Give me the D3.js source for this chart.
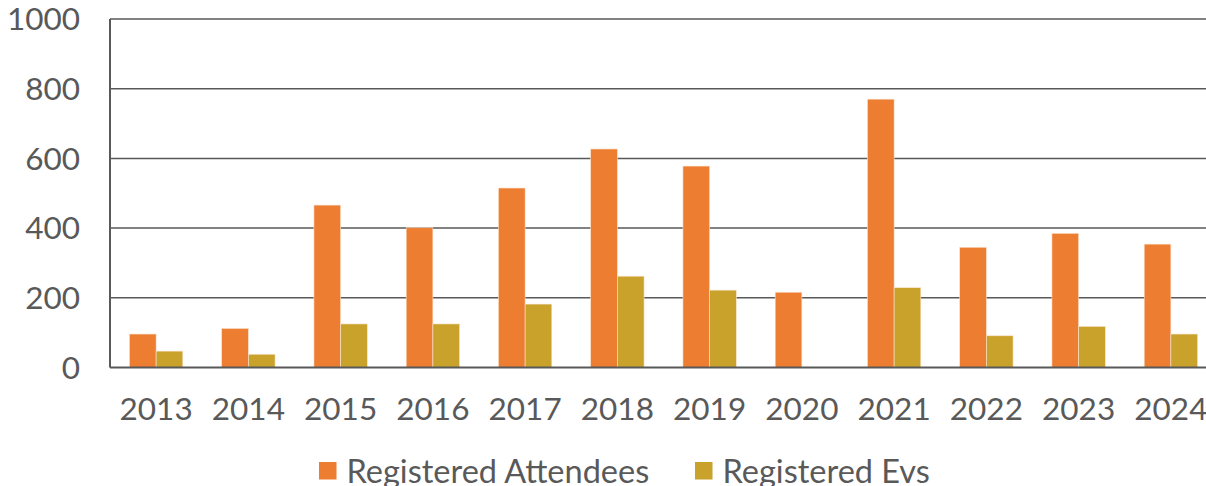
<!DOCTYPE html>
<html><head><meta charset="utf-8">
<script src="https://cdn.jsdelivr.net/npm/d3@7"></script>
<style>
html,body{margin:0;padding:0;background:#fff;}
svg{display:block;font-family:Lato,"Open Sans",sans-serif;}
</style></head>
<body>
<svg id="chart" width="1206" height="486"></svg>
<script>
const years = ["2013","2014","2015","2016","2017","2018","2019","2020","2021","2022","2023","2024"];
const attendees = [96,112,466,401,515,627,578,216,770,345,385,354];
const evs = [47,38,125,125,182,262,222,0,229,91,118,96];
const yTicks = [0,200,400,600,800,1000];
const seriesNames = ["Registered Attendees","Registered Evs"];
const colors = ["#ED7D31","#C9A22C"];

(function(){
const svg = d3.select("#chart");
const pLeft = 110, pRight = 1217, pTop = 19, pBottom = 367.5;
const textColor = "#595959", lineColor = "#595959";

const x0 = d3.scaleBand().domain(years).range([pLeft, pRight]).paddingInner(0.4215).paddingOuter(0.21075);
const x1 = d3.scaleBand().domain([0,1]).range([0, x0.bandwidth()]);
const y = d3.scaleLinear().domain([0,1000]).range([pBottom, pTop]);

// gridlines
svg.append("g").selectAll("line").data(yTicks.filter(d=>d>0)).join("line")
  .attr("x1", pLeft).attr("x2", 1206)
  .attr("y1", d=>y(d)).attr("y2", d=>y(d))
  .attr("stroke", lineColor).attr("stroke-width", 1.5);

// bars
const groups = svg.append("g").selectAll("g").data(years).join("g")
  .attr("transform", d=>`translate(${x0(d)},0)`);
groups.selectAll("rect").data((d,i)=>[attendees[i], evs[i]].map((v,j)=>({v,j})))
  .join("rect")
  .attr("x", d=>x1(d.j)).attr("width", x1.bandwidth())
  .attr("y", d=>y(d.v)).attr("height", d=>pBottom - y(d.v))
  .attr("fill", d=>colors[d.j])
  .attr("stroke", d=>d.v>0?"#fbe3cf":"none").attr("stroke-width", 0.6);

// axes lines
svg.append("line").attr("x1", pLeft).attr("x2", pLeft).attr("y1", pTop).attr("y2", pBottom)
  .attr("stroke", lineColor).attr("stroke-width", 2);
svg.append("line").attr("x1", pLeft).attr("x2", 1206).attr("y1", pBottom).attr("y2", pBottom)
  .attr("stroke", lineColor).attr("stroke-width", 2);

// y labels
svg.append("g").selectAll("text").data(yTicks).join("text")
  .attr("x", 80).attr("y", d=>y(d)).attr("dy", "0.36em")
  .attr("text-anchor", "end").attr("fill", textColor)
  .attr("font-size", 31.5).text(d=>d);

// x labels
svg.append("g").selectAll("text").data(years).join("text")
  .attr("x", d=>x0(d)+x0.bandwidth()/2).attr("y", 419.5)
  .attr("text-anchor", "middle").attr("fill", textColor)
  .attr("font-size", 31.5).text(d=>d);

// legend
const legX = [319, 695];
const leg = svg.append("g").selectAll("g").data(seriesNames).join("g")
  .attr("transform", (d,i)=>`translate(${legX[i]},0)`);
leg.append("rect").attr("x",0).attr("y",462).attr("width",17.5).attr("height",17.5)
  .attr("fill", (d,i)=>colors[i]);
leg.append("text").attr("x",27.5).attr("y",483).attr("fill", textColor)
  .attr("font-size", 32.5).text(d=>d);
})();
</script>
</body></html>
